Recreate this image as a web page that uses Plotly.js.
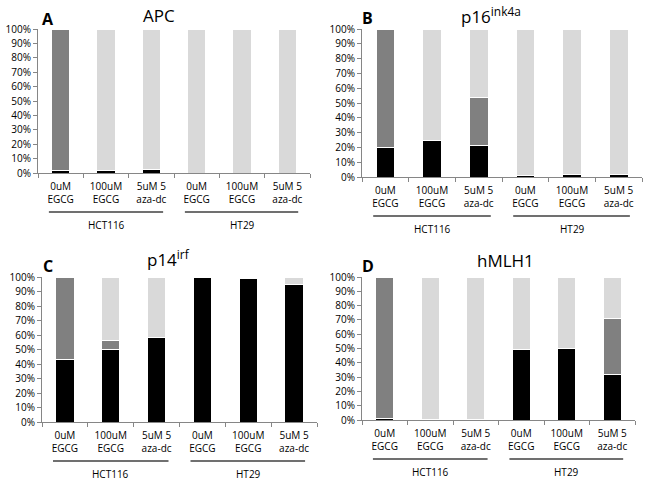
<!DOCTYPE html>
<html><head><meta charset="utf-8">
<script src="https://cdn.plot.ly/plotly-3.0.1.min.js"></script>
<style>body{margin:0;background:#fff}#c{width:647px;height:480px}</style>
</head><body><div id="c"></div>
<script>
const tickLabels = ["0uM<br>EGCG","100uM<br>EGCG","5uM 5<br>aza-dc","0uM<br>EGCG","100uM<br>EGCG","5uM 5<br>aza-dc"];
const groups = ["HCT116","HT29"];
const panelTitles = ["APC","p16<sup>ink4a</sup>","p14<sup>irf</sup>","hMLH1"];
const panelLetters = ["A","B","C","D"];

// black (bottom), dark gray (middle), light gray (top) percentages
const apcBlack = [2, 1.5, 2.5, 0, 0, 0];
const apcDark  = [98, 0, 0, 0, 0, 0];
const apcLight = [0, 98.5, 97.5, 100, 100, 100];

const p16Black = [20, 25, 21, 1, 1.5, 2];
const p16Dark  = [80, 0, 33, 0, 0, 0];
const p16Light = [0, 75, 46, 99, 98.5, 98];

const p14Black = [43, 50, 58, 100, 99, 95];
const p14Dark  = [57, 6, 0, 0, 0, 0];
const p14Light = [0, 44, 42, 0, 1, 5];

const mlhBlack = [1, 0.5, 0.5, 49, 50, 32];
const mlhDark  = [99, 0, 0, 0, 0, 39];
const mlhLight = [0, 99.5, 99.5, 51, 50, 29];

const panels = [
  {b: apcBlack, d: apcDark, l: apcLight},
  {b: p16Black, d: p16Dark, l: p16Light},
  {b: p14Black, d: p14Dark, l: p14Light},
  {b: mlhBlack, d: mlhDark, l: mlhLight}
];

const W = 647, H = 480;
// pixel geometry: [x0, x1, yBottom, yTop]
const geo = [
  [38, 310, 173, 29],
  [362, 642, 177, 29],
  [42, 317, 422, 277],
  [362, 635, 420, 277]
];
const xs = [0,1,2,3,4,5];
const colors = ["#000000", "#808080", "#d9d9d9"];
const font = "Open Sans, Liberation Sans, sans-serif";

const data = [];
const layout = {
  width: W, height: H, margin: {l:0, r:0, t:0, b:0},
  paper_bgcolor: "#fff", plot_bgcolor: "#fff",
  barmode: "stack", bargap: 0.6, showlegend: false,
  font: {family: font, size: 10, color: "#000"},
  shapes: [], annotations: []
};

panels.forEach((p, i) => {
  const n = i + 1;
  const xa = "x" + (n === 1 ? "" : n), ya = "y" + (n === 1 ? "" : n);
  [p.b, p.d, p.l].forEach((vals, k) => {
    data.push({type: "bar", x: xs, y: vals, xaxis: xa, yaxis: ya,
      width: 0.4,
      marker: {color: colors[k], line: {color: "#fff", width: 1}},
      hoverinfo: "skip"});
  });
  const g = geo[i];
  const xk = "xaxis" + (n === 1 ? "" : n), yk = "yaxis" + (n === 1 ? "" : n);
  layout[xk] = {
    domain: [g[0]/W, g[1]/W], anchor: ya, range: [-0.5, 5.5],
    tickmode: "array", tickvals: xs, ticktext: tickLabels, ticks: "",
    ticklabelstandoff: 4,
    showline: true, linecolor: "#868686", linewidth: 1, showgrid: false, zeroline: false,
    tickfont: {family: font, size: 10, color: "#000"},
    minor: {tick0: -0.5, dtick: 1, ticks: "outside", ticklen: 4, tickcolor: "#868686", showgrid: false},
    fixedrange: true
  };
  layout[yk] = {
    domain: [1 - g[2]/H, 1 - g[3]/H], anchor: xa, range: [0, 100],
    tickmode: "linear", tick0: 0, dtick: 10, ticksuffix: "%",
    ticks: "outside", ticklen: 4, tickcolor: "#868686",
    showline: true, linecolor: "#868686", linewidth: 1, showgrid: false, zeroline: false,
    tickfont: {family: font, size: 10, color: "#000"},
    fixedrange: true
  };
  const lineY = 1 - (g[2] + 39)/H;
  const labY = 1 - (g[2] + 52)/H;
  [[-0.26, 2.26, 1], [2.74, 5.24, 4]].forEach((s, j) => {
    layout.shapes.push({type: "line", xref: xa, yref: "paper", x0: s[0], x1: s[1], y0: lineY, y1: lineY,
      line: {color: "#404040", width: 1.5}});
    layout.annotations.push({xref: xa, yref: "paper", x: s[2], y: labY, text: groups[j], showarrow: false,
      font: {family: font, size: 10, color: "#000"}, xanchor: "center", yanchor: "middle"});
  });
});

// titles and letters (pixel centres)
const titlePos = [[159, 15], [491, 15], [168, 258], [505, 260]];
const letterPos = [[48, 19], [367, 18], [48, 266], [368, 266]];
panelTitles.forEach((t, i) => {
  layout.annotations.push({xref: "paper", yref: "paper", x: titlePos[i][0]/W, y: 1 - titlePos[i][1]/H,
    text: t, showarrow: false, xanchor: "center", yanchor: "middle",
    font: {family: font, size: 17, color: "#000"}});
  layout.annotations.push({xref: "paper", yref: "paper", x: letterPos[i][0]/W, y: 1 - letterPos[i][1]/H,
    text: "<b>" + panelLetters[i] + "</b>", showarrow: false, xanchor: "center", yanchor: "middle",
    font: {family: font, size: 16, color: "#000"}});
});

Plotly.newPlot("c", data, layout, {staticPlot: true, displayModeBar: false});
</script></body></html>
